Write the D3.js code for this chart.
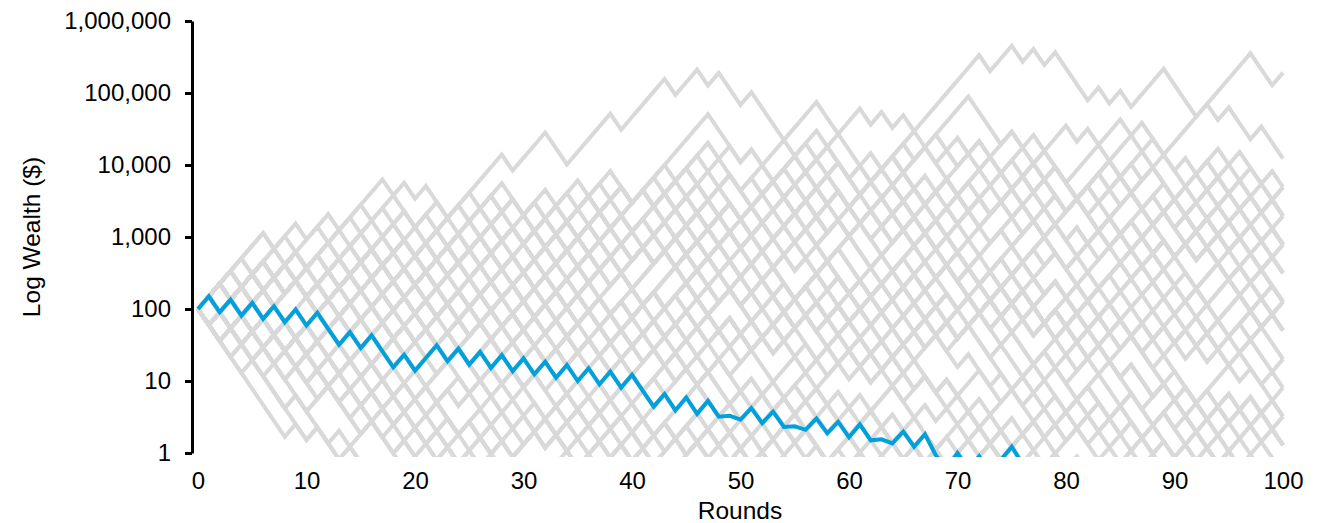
<!DOCTYPE html>
<html>
<head>
<meta charset="utf-8">
<script src="https://cdn.jsdelivr.net/npm/d3@7"></script>
<style>
body { margin: 0; background: #fff; }
svg { display: block; font-family: "Liberation Sans", Arial, sans-serif; }
.axis text { font-size: 24px; fill: #000; }
.label { font-size: 24.5px; fill: #000; }
</style>
</head>
<body>
<svg id="chart" width="1325" height="523"></svg>
<script>
// each round wealth goes x1.5 (u) or x0.6 (d), every path starts at $100
const startWealth = 100
const upFactor = 1.5
const downFactor = 0.6

const xTicks = [0, 10, 20, 30, 40, 50, 60, 70, 80, 90, 100]
const yTicks = [1, 10, 100, 1000, 10000, 100000, 1000000]

// coin flip sequences of the grey simulations (blocks of 10 rounds)
const grayPaths = [
  'uuuuuuduud uuduuduuud udduuuuudu uudduuuudu uuuduududd uddduuuddu udududuuuu uuduududud ddududuuud dduuuuuddu',
  'uduuduudud uuduuuduud duuddudduu uuuduuduud uuduudduud uuduuuduud uduuduuuuu udddududuu duduududdu uuududdudd',
  'ududuuduud duuuuduudu dduuuuuudd uduuduudud uuuuuddddd uuduudduud uuduuuduud duuddudduu uuuudddduu duuuduudud',
  'ududduudud duuuduudud ddduuuuuuu uuduudduud uuuduuduud ddddduuuuu dduduuddud uduuduudud dduuuuuudd ududuuduud',
  'uuduuuduud uudduddudu udduddudud uuuudddduu uuuuuuuddd duuuduudud dduuuuuddd uuduudduud duduuddudu uduuduudud',
  'duddududdu uduuduudud ududuuduud uuuduuduud dduuuuuudd uuduudduud dddduuuudd udududdudu duuuduudud uuuudddduu',
  'uuduudduud duuuduudud ddddduuuuu duuuuduudu uduuduudud uudddudddu dduuuuuudd udduddudud ududduudud ududuuduud',
  'duddduddud duduuddudu uuuudddduu uduuduudud duuuduudud uuduuuduud uuuuuddddd uuduudduud uuuddddddu dduuuuuudd',
  'ududuuduud dduduuddud uduuduudud dduuuuuddd duddududdu dduuuuuudd uuuduuduud uudduddudu uuduudduud udduddudud',
  'duuddudduu udduddudud uudddudddu duuuduudud uuuudddduu udududdudu uduuduudud ddddduuuuu ududuuduud ududduudud',
  'uuuduuduud uduuduudud dddduuuudd dduduuddud uudduddudu uuduudduud duddududdu dduuuuuudd uuuuuddddd duduuddudu',
  'udduddudud uuuddddddu udududdudu ududuuduud dduduuddud duuuduudud duuddudduu uduuduudud uuduudduud dduuuuuddd',
  'uduuduudud uuduuuduud ddduuuuuuu duddududdu ududduudud uudddudddu ddduudddud uudduddudu uuuudddduu dddduuuudd',
  'duuuuduudu uuuduuduud uuduudduud dduuuuuudd uuuuuuuddd udduddudud uuuddddddu dduduuddud duduuddudu duddududdu',
  'duuuduudud ududuuduud uuduuuduud ddduuuuuuu uuuduuduud uduuduudud ddddduuuuu uudddudddu udduddudud dddduuuudd',
  'uuuduuduud dduuuuuudd uduuduudud duuuuduudu uuduudduud ududduudud duddududdu ddddddduuu duddduddud uddddududd',
  'uuuudddduu uuduuuduud ududuuduud duuuduudud uuuuuuuddd duuddudduu ddduudddud dduduuddud ddudduddud udduddudud',
  'uudduddudu uduuduudud uuduudduud dduuuuuudd uuuuuddddd uudddudddu udduddudud duddududdu udududdudu uuuddddddu',
  'dduduuddud ududduudud dddduuuudd duduuddudu ududuuduud dduuuuuddd udduddudud duuddudduu duddududdu uudduddudu',
  'duuuduudud ddddduuuuu udududdudu uudddudddu dduduuddud ududduudud uuuudddduu udduddudud dddduuuudd duduuddudu',
  'uddddududd udduddudud duuddudduu uduuduudud uuuuuddddd duddududdu uudduddudu udududdudu dduduuddud ududduudud',
  'ddudddddud uudddudddu uuduudduud ududduudud udduddudud duddududdu duuddudduu dduduuddud uudduddudu udduddudud',
  'dddduddddd udduddudud duduuddudu duddududdu ududduudud duuddudduu uudddudddu uudduddudu udududdudu ududduudud',
  'dddudduddd uudduddudu dduduuddud udududdudu uduuduudud uuuuuddddd udduddudud duduuddudu duuddudduu ududduudud',
  'uuduudduud uduuduudud uuuddddddu duuddudduu duddududdu udduddudud dddduuuudd ududduudud uudduddudu duduuddudu',
  'ududduudud uudduddudu duuuduudud ududuuduud uuduudduud dduduuddud dduuuuuddd udduddudud uudddudddu duddududdu',
  'duddududdu dduuuuuudd uduuduudud duduuddudu uuduudduud duuuduudud ududduudud udduddudud duddduddud dduduuddud',
  'uuduuuduud uuuuuuuddd duuddudduu udduddudud uuuddddddu ddduudddud duddududdu uudddudddu udududdudu udduddudud',
  'uuuuduuduu uduuduudud duuuduudud dduduuddud uudduddudu udduddudud duduuddudu uddddududd dddduuuudd duddududdu',
  'udduddudud duddduddud udududdudu uuduudduud duuddudduu ddddduuuuu ududuuduud uudduddudu ududduudud dduduuddud',
  'duduuddudu ddduudddud duddududdu ududduudud uduuduudud uuuudddduu uudduddudu duuddudduu udduddudud udududdudu',
  'uddddududd uuduudduud uuuuuddddd udduddudud duduuddudu duuuduudud uduuduudud dduduuddud ududduudud uudduddudu',
  'uduuduudud dduduuddud udduddudud dddduuuudd duuddudduu ududduudud duddududdu duduuddudu uudduddudu udududdudu',
  'uudddudddu udduddudud duddududdu uudduddudu dduduuddud ududduudud udududdudu duuddudduu duduuddudu ududduudud',
  'uuuduuduud ududuuduud uuduuuduud uduuduudud udduddudud dddduuuudd dduduuddud uuuuuddddd duddduddud duddududdu',
  'duuuduudud uduuduudud uuduudduud ddduuuuuuu ududuuduud uuuudddduu udduddudud ddudduddud dduduuddud ddduudddud',
  'udududdudu duuuuduudu uduuduudud duddududdu uuduudduud dduuuuuudd duuuduudud udduddudud duddduddud ddddddduuu',
  'dduduuddud dduuuuuddd uduuduudud ududuuduud uuduudduud duuuduudud uuuudddduu uduuduudud udduddudud uudddudddu',
  'uuduudduud udduddudud ududduudud duuuduudud uduuduudud uuuduuduud ududuuduud dduuuuuudd uuduudduud uduuduudud',
  'duddududdu dduduuddud uduuduudud uuuudddduu uuduuuduud duuuduudud uuduudduud ududuuduud duuuuduudu uuuuuddddd',
  'duuddudduu duduuddudu udduddudud uudduddudu dduuuuuudd ddduuuuuuu uduuduudud uuuduuduud duuuduudud dduduuddud',
  'duuuuduudu uuduudduud ududduudud ududuuduud uduuduudud duuuduudud uuuudddduu uuduudduud udduddudud uduuduudud',
  'ddduudddud udduddudud duddududdu ududduudud udududdudu uuduudduud uduuduudud uudduddudu duuuduudud ududuuduud',
  'duddddddud dduduuddud duuddudduu uduuduudud dduuuuuudd duduuddudu ududduudud uuduudduud duuuduudud udududdudu',
  'udduddudud uddddududd dduduuddud ududuuduud uduuduudud uuuudddduu uudduddudu duuuduudud uuduudduud uduuduudud',
  'ddddddddud udduddudud dduduuddud ududduudud uudduddudu duuddudduu duduuddudu udududdudu ududduudud uudduddudu',
  'ddudduddud duddduddud duddududdu duduuddudu uuduudduud ududduudud uudduddudu duuddudduu udududdudu ududduudud',
  'uduuduudud duuuduudud udduddudud dduduuddud duddududdu uudddudddu ududduudud duuddudduu uudduddudu duduuddudu',
  'uuuuuudddd uuuduuduud duuuduudud uduuduudud dduuuuuudd ududuuduud uuduudduud ddduuuuudd uuuudddduu duddududdu',
  'duuuuuuudd uduuduudud uuduudduud uudduddudu ududuuduud uuduuuduud uuuuuudddd duuuduudud uuudddddud dduuuuuudd',
  'duuddudduu duuuduudud ddduuuuuuu duuuuduudu uduuduudud uuuuuddddd ududuuduud uuduudduud uuuuuudddd udududdudu',
  'ududuuduud uuuudddduu duuuduudud uuduudduud uuduuuduud dduuuuuudd duduuddudu duuuuuuudd ddduuuuudd ddudddddud',
  'uuuduuduud duuuuduudu uduuduudud ududuuduud ududduudud uuuuuudddd duuuduudud dduuuuuudd duddduddud uudddudddu',
  'uuduudduud ddddduuuuu uduuduudud uuuuuuuddd uuuduuduud duuuduudud uuuudddduu udduddudud ududuuduud uuuuuudddd',
  'duuuduudud uuduuuduud duuuuuuudd uuduudduud uduuduudud dduuuuuudd duuuuduudu dduduuddud dddduuuudd uddddududd',
  'uudduddudu ududuuduud uduuduudud uuuudddduu duuuduudud ddduuuuuuu uuuduuduud uuduudduud duuddudduu ddudduddud',
  'uuduuuduud duduuddudu uuduudduud dduuuuuudd ududuuduud uduuduudud ddduuuuudd duuuduudud duuuuuuudd uuuudddduu',
  'uduuduudud duuuduudud udududdudu uuuuuudddd duuuuduudu uuduudduud ududuuduud uuduuuduud dduuuuuudd udduddudud',
  'dduduuddud uuduudduud uuuduuduud duuuduudud uuuudddduu ududduudud uuuuuuuddd uduuduudud ududuuduud duuuduudud',
  'dduuuuuudd uduuduudud duuuuduudu uuduuuduud ududuuduud uuduudduud uudduddudu uuuuuddddd uuuduuduud duuddudduu',
  'duduuddudu uduuduudud duuuduudud duuddudduu uuduudduud uuuuuudddd ududuuduud dduuuuuudd uduuduudud uuuudddduu',
  'duuuuduudu ududuuduud uduuduudud uuuduuduud udududdudu duuuuuuudd duuuduudud uudddudddu uuduudduud dduduuddud',
  'uduuduudud uudduddudu ududuuduud ududduudud uuduudduud duuuduudud ddddduuuuu uuuudddduu dduuuuuudd duduuddudu',
  'udududdudu uuduudduud duuddudduu uduuduudud uudduddudu ududuuduud duuuduudud ududduudud uuuuuudddd uuduudduud',
  'udduddudud duduuddudu duuuduudud ududuuduud uduuduudud duuddudduu dduuuuuudd uuduudduud uudduddudu uduuduudud',
  'ududuuduud uduuduudud uuuuuddddd uudduddudu duuuduudud udududdudu uuduudduud duduuddudu ududduudud duuuduudud'
]

// highlighted series, wealth ($) by round 0..77
const blueWealth = [
  100, 150, 90, 135, 81, 121.5, 72.9, 109.4, 65.6, 98.4,
  59, 88.6, 53.1, 31.9, 47.8, 28.7, 43, 25.8, 15.5, 23.2,
  13.9, 20.9, 31.4, 18.8, 28.2, 16.9, 25.4, 15.2, 22.9, 13.7,
  20.6, 12.4, 18.5, 11.1, 16.7, 10, 15, 9, 13.5, 8.1,
  12.2, 7.3, 4.4, 6.6, 3.9, 5.9, 3.5, 5.3, 3.2, 3.3,
  2.9, 4.2, 2.6, 3.75, 2.3, 2.35, 2.1, 3.0, 1.88, 2.7,
  1.65, 2.5, 1.5, 1.55, 1.36, 1.98, 1.22, 1.82, 0.93, 0.6,
  1.0, 0.6, 0.9, 0.55, 0.8, 1.22, 0.7, 0.45
]

const svg = d3.select('#chart')

let x = d3.scaleLinear().domain([0, 100]).range([198, 1283])
let y = d3.scaleLog().domain([1, 1000000]).range([453, 21])

function wealthPath(steps) {
    let w = startWealth
    let out = [w]
    steps.replace(/\s/g, '').slice(0, 100).split('').forEach(s => {
        w = w * (s === 'u' ? upFactor : downFactor)
        out.push(w)
    })
    return out
}

svg.append('clipPath')
    .attr('id', 'plotClip')
    .append('rect')
    .attr('x', 0)
    .attr('y', 0)
    .attr('width', 1325)
    .attr('height', 457)

let line = d3.line()
    .x((d, i) => x(i))
    .y(d => y(d))

let plot = svg.append('g').attr('clip-path', 'url(#plotClip)')

plot.selectAll('.sim')
    .data(grayPaths.map(wealthPath))
    .enter()
    .append('path')
    .attr('class', 'sim')
    .attr('d', line)
    .style('fill', 'none')
    .style('stroke', '#d9d9d9')
    .style('stroke-width', 4)

plot.append('path')
    .datum(blueWealth)
    .attr('d', line)
    .style('fill', 'none')
    .style('stroke', '#00a0dc')
    .style('stroke-width', 4)

//y axis
let yAxis = d3.axisLeft(y)
    .tickValues(yTicks)
    .tickFormat(d3.format(','))
    .tickSize(7)
    .tickSizeOuter(0)
    .tickPadding(14)
let yG = svg.append('g')
    .attr('class', 'axis')
    .attr('transform', 'translate(192, 0)')
    .call(yAxis)
yG.select('.domain').style('stroke', '#000').style('stroke-width', 3)
yG.selectAll('.tick line').style('stroke', '#000').style('stroke-width', 3)

//x axis, labels only
let xAxis = d3.axisBottom(x)
    .tickValues(xTicks)
    .tickSize(0)
    .tickPadding(19)
let xG = svg.append('g')
    .attr('class', 'axis')
    .attr('transform', 'translate(0, 453)')
    .call(xAxis)
xG.select('.domain').remove()

//labels for axes
svg.append('text')
    .attr('class', 'label')
    .attr('x', 740)
    .attr('y', 519)
    .attr('text-anchor', 'middle')
    .text('Rounds')
svg.append('g')
    .attr('transform', 'translate(40, 237) rotate(270)')
    .append('text')
    .attr('class', 'label')
    .attr('text-anchor', 'middle')
    .text('Log Wealth ($)')
</script>
</body>
</html>
